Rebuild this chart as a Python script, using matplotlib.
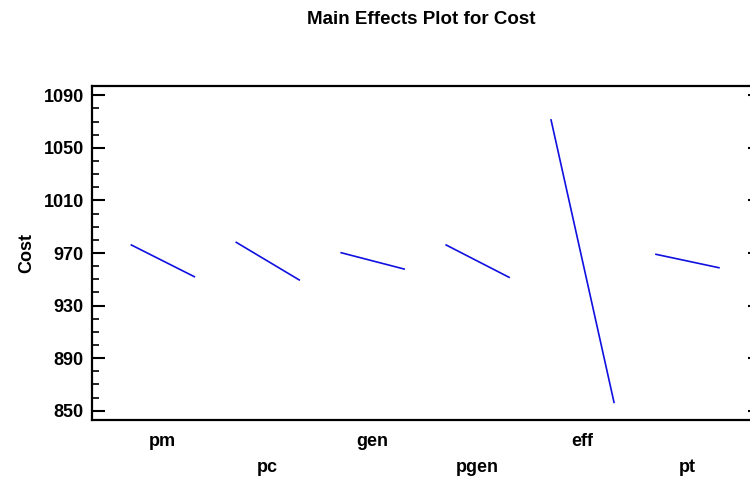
import matplotlib
matplotlib.use("Agg")
import matplotlib.pyplot as plt
from matplotlib.ticker import MultipleLocator

# Mittelwerte bei niedrigem / hohem Faktorniveau
factors = ["pm", "pc", "gen", "pgen", "eff", "pt"]
cost_low = [976.1, 978.1, 970.2, 976.1, 1071.2, 969.0]
cost_high = [952.0, 949.5, 957.8, 951.5, 856.4, 958.8]
yticks = [850, 890, 930, 970, 1010, 1050, 1090]

plt.rcParams["font.family"] = ["Liberation Sans", "DejaVu Sans"]
plt.rcParams["font.weight"] = "bold"

fig = plt.figure(figsize=(7.5, 4.8), dpi=100)
ax = fig.add_axes([92 / 750, 1 - 420 / 480, 660 / 750, 334 / 480])

half = 0.3
for i, (lo, hi) in enumerate(zip(cost_low, cost_high)):
    ax.plot([i - half, i + half], [lo, hi], color="#1010e0", lw=1.2)

ax.set_xlim(-0.675, 5.615)
ax.set_ylim(843, 1097)
ax.set_yticks(yticks)
ax.yaxis.set_minor_locator(MultipleLocator(10))
ax.tick_params(axis="y", which="major", direction="in", length=9.5, width=1.5,
               labelsize=13, pad=6)
ax.tick_params(axis="y", which="minor", direction="in", length=5, width=1.2)
ax.set_xticks([])

for s in ["left", "bottom", "top"]:
    ax.spines[s].set_linewidth(1.6)
ax.spines["right"].set_visible(False)

# rechte Achse: nur kurze Hauptstriche
sec = ax.secondary_yaxis("right")
sec.set_yticks(yticks)
sec.tick_params(direction="in", length=3, width=1.5, labelright=False)
sec.spines["right"].set_visible(False)

for lbl in ax.get_yticklabels():
    lbl.set_fontweight("bold")

# Faktornamen abwechselnd in zwei Zeilen
trans = ax.get_xaxis_transform()
for i, name in enumerate(factors):
    y = -0.063 if i % 2 == 0 else -0.141
    ax.text(i, y, name, transform=trans, ha="center", va="center",
            fontsize=13, fontweight="bold")

ax.set_ylabel("Cost", fontsize=13, fontweight="bold", labelpad=6)
fig.suptitle("Main Effects Plot for Cost", x=421 / 750, y=1 - 20 / 480,
             va="center", fontsize=13.5, fontweight="bold")

fig.savefig("out.png", dpi=100)
